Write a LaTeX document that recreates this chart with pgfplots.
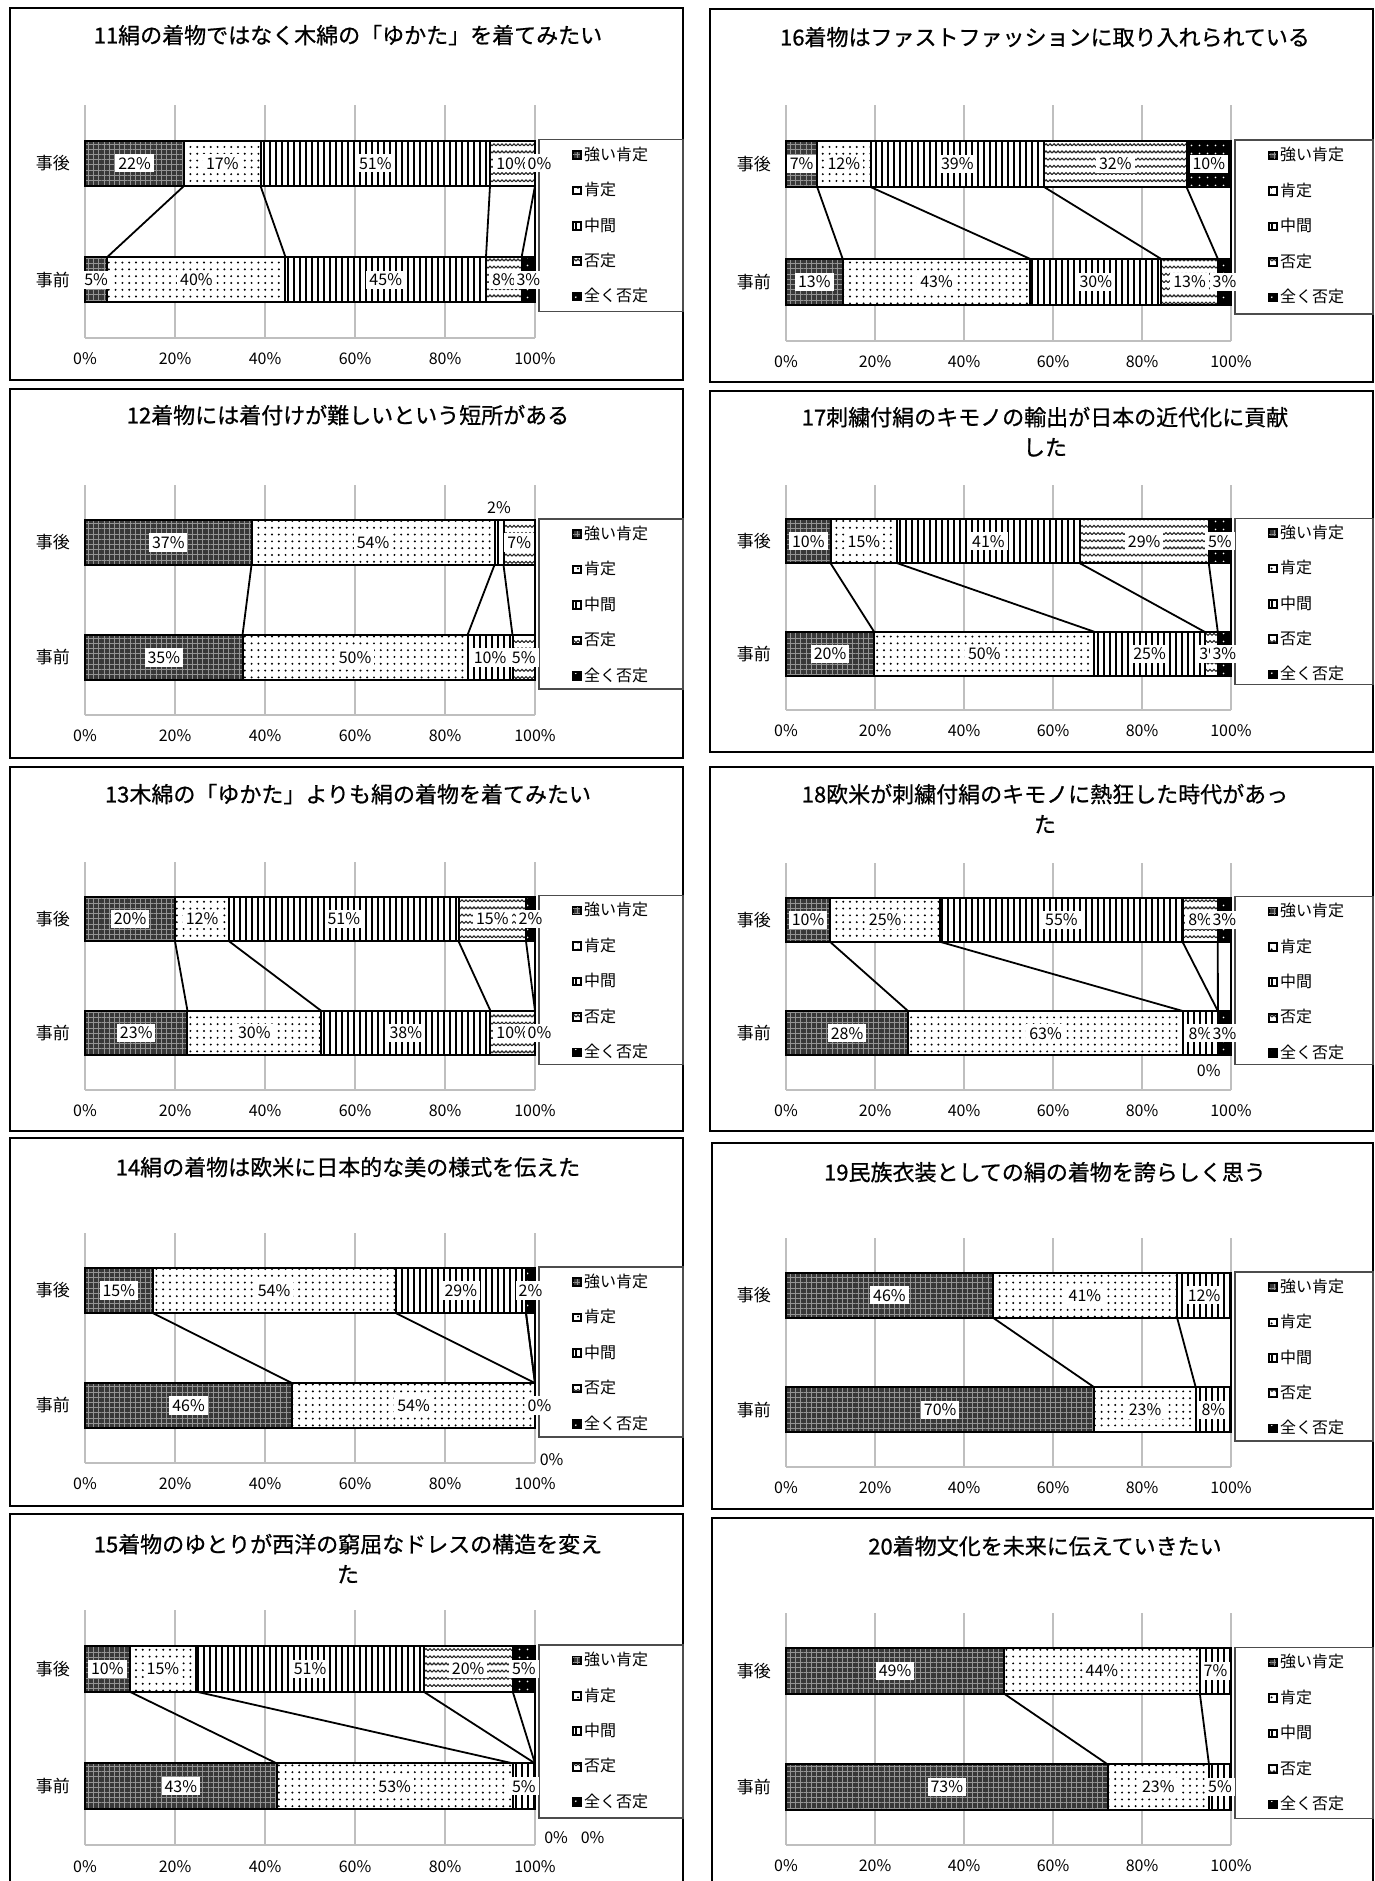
\documentclass[border=0pt]{standalone}
\usepackage{fontspec}
\setmainfont{Noto Sans CJK JP}
\newfontfamily\ttlfont{Noto Sans CJK JP}[BoldFont={Noto Sans CJK JP}, BoldFeatures={FakeBold=0.8}]
\usepackage{pgfplots}
\pgfplotsset{compat=1.18}
\usepackage{pgfplotstable}
\usetikzlibrary{patterns,patterns.meta}

\tikzdeclarepattern{
  name=wavy,
  type=uncolored,
  bounding box={(-0.3pt,-0.6pt) and (2.3pt,1.6pt)},
  tile size={(2pt,3.6pt)},
  code={\draw[line width=0.55pt] (0pt,0pt) -- (1pt,1pt) -- (2pt,0pt);}
}

% y=0: 事前, y=1: 事後 ; a..e = 強い肯定..全く否定 ; k = series whose label is moved
\pgfplotstableread{
y a  b  c  d  e k
0 5  40 45 8  3 0
1 22 17 51 10 0 0
}\tA
\pgfplotstableread{
y a  b  c  d e k
0 35 50 10 5 0 0
1 37 54 2  7 0 3
}\tB
\pgfplotstableread{
y a  b  c  d  e k
0 23 30 38 10 0 0
1 20 12 51 15 2 0
}\tC
\pgfplotstableread{
y a  b  c  d e k
0 46 54 0  0 0 0
1 15 54 29 0 2 0
}\tD
\pgfplotstableread{
y a  b  c  d  e k
0 43 53 5  0  0 0
1 10 15 51 20 5 0
}\tE
\pgfplotstableread{
y a  b  c  d  e  k
0 13 43 30 13 3  0
1 7  12 39 32 10 0
}\tF
\pgfplotstableread{
y a  b  c  d  e k
0 20 50 25 3  3 0
1 10 15 41 29 5 0
}\tG
\pgfplotstableread{
y a  b  c  d e k
0 28 63 8  0 3 0
1 10 25 55 8 3 0
}\tH
\pgfplotstableread{
y a  b  c  d e k
0 70 23 8  0 0 0
1 46 41 12 0 0 0
}\tI
\pgfplotstableread{
y a  b  c d e k
0 73 23 5 0 0 0
1 49 44 7 0 0 0
}\tJ

% labels that were moved by hand
\pgfplotstableread{
x   y  t
101 1  {0\%}
}\xA
\pgfplotstableread{
x  y    t
92 1.30 {2\%}
}\xB
\pgfplotstableread{
x   y t
101 0 {0\%}
}\xC
\pgfplotstableread{
x     y     t
101   0     {0\%}
103.7 -0.47 {0\%}
}\xD
\pgfplotstableread{
x     y     t
104.7 -0.44 {0\%}
112.8 -0.44 {0\%}
}\xE
\pgfplotstableread{
x  y     t
95 -0.33 {0\%}
}\xH

\newcommand\T{(\thisrow{a}+\thisrow{b}+\thisrow{c}+\thisrow{d}+\thisrow{e})}

\pgfplotsset{
  kp/.style={
    anchor=north west, scale only axis,
    xmin=0, xmax=100, ymin=-0.5, ymax=1.5, clip=false,
    axis line style={draw=none}, tick style={draw=none},
    xtick={0,20,...,100}, xticklabel={\pgfmathprintnumber{\tick}\%},
    ytick={0,1}, yticklabels={事前,事後},
    xmajorgrids, grid style={draw=black!25, line width=0.6pt},
    /pgf/number format/assume math mode=true,
    xticklabel style={font=\fontsize{8}{9}\selectfont, yshift=-4pt},
    yticklabel style={font=\fontsize{8.5}{10}\selectfont, xshift=-4pt},
    reverse legend, legend cell align=left,
    legend style={draw=none, fill=none, at={(axis description cs:1,0.75)},
      anchor=north west, xshift=18.5pt, yshift=9pt, inner sep=0pt,
      row sep=8.5pt, column sep=1pt,
      font=\fontsize{8}{9}\selectfont, nodes={inner sep=0.5pt}},
  },
  bb/.style={xbar, bar shift=0pt, bar width=0.39, draw=black, line width=1pt,
    legend image code/.code={\draw[##1, line width=0.5pt] (0pt,-1.9pt) rectangle (3.8pt,1.9pt);}},
  sA/.style={bb, preaction={fill=black!78}, pattern={Hatch[angle=0,distance=2.6pt,line width=0.5pt]}, pattern color=black!42},
  sB/.style={bb, preaction={fill=white}, pattern={Dots[distance=3.4pt,radius=0.55pt]}, pattern color=black},
  sC/.style={bb, preaction={fill=white}, pattern={Lines[angle=90,distance=3pt,line width=0.9pt]}, pattern color=black},
  sD/.style={bb, preaction={fill=white}, pattern=wavy, pattern color=black!85},
  sE/.style={bb, preaction={fill=black}, pattern={Dots[distance=4pt,radius=0.5pt]}, pattern color=white},
  sline/.style={forget plot, black, line width=0.9pt, mark=none},
  lab/.style={forget plot, draw=none, mark=none,
    nodes near coords={\pgfmathprintnumber{\pgfplotspointmeta}\%},
    every node near coord/.append style={anchor=center, fill=white, inner sep=1.5pt,
      text=black, font=\fontsize{8}{9}\selectfont}},
  labx/.style={lab, point meta=explicit symbolic, nodes near coords={\pgfplotspointmeta}},
}

\newcommand\lbl[4]{\addplot[lab, point meta=\thisrow{#2},
  restrict expr to domain={\thisrow{#2}*(\thisrow{k}!=#3)}{0.5:1000}]
  table[x expr={#4}, y=y]{#1};}

\newcommand\panelplots[2]{%
  \addplot[sE] table[x expr=100, y=y]{#1}; \addlegendentry{全く否定}
  \addplot[sD] table[x expr={100*(\thisrow{a}+\thisrow{b}+\thisrow{c}+\thisrow{d})/\T}, y=y]{#1}; \addlegendentry{否定}
  \addplot[sC] table[x expr={100*(\thisrow{a}+\thisrow{b}+\thisrow{c})/\T}, y=y]{#1}; \addlegendentry{中間}
  \addplot[sB] table[x expr={100*(\thisrow{a}+\thisrow{b})/\T}, y=y]{#1}; \addlegendentry{肯定}
  \addplot[sA] table[x expr={100*\thisrow{a}/\T}, y=y]{#1}; \addlegendentry{強い肯定}
  \addplot[sline] table[x expr={100*\thisrow{a}/\T}, y expr={0.195+0.61*\thisrow{y}}]{#1};
  \addplot[sline] table[x expr={100*(\thisrow{a}+\thisrow{b})/\T}, y expr={0.195+0.61*\thisrow{y}}]{#1};
  \addplot[sline] table[x expr={100*(\thisrow{a}+\thisrow{b}+\thisrow{c})/\T}, y expr={0.195+0.61*\thisrow{y}}]{#1};
  \addplot[sline] table[x expr={100*(\thisrow{a}+\thisrow{b}+\thisrow{c}+\thisrow{d})/\T}, y expr={0.195+0.61*\thisrow{y}}]{#1};
  \addplot[sline] table[x expr=100, y expr={0.195+0.61*\thisrow{y}}]{#1};
  \lbl{#1}{a}{1}{50*\thisrow{a}/\T}
  \lbl{#1}{b}{2}{100*(\thisrow{a}+0.5*\thisrow{b})/\T}
  \lbl{#1}{c}{3}{100*(\thisrow{a}+\thisrow{b}+0.5*\thisrow{c})/\T}
  \lbl{#1}{d}{4}{100*(\thisrow{a}+\thisrow{b}+\thisrow{c}+0.5*\thisrow{d})/\T}
  \lbl{#1}{e}{5}{100*(\thisrow{a}+\thisrow{b}+\thisrow{c}+\thisrow{d}+0.5*\thisrow{e})/\T}
  \draw[black!25, line width=0.6pt] (axis cs:0,-0.5) -- (axis cs:100,-0.5);
  \draw[black!70, line width=0.7pt] ([xshift=2pt,yshift=0.5pt]axis cs:100,1.195)
    rectangle ([xshift=#2,yshift=-4.5pt]axis cs:100,-0.195);
}

\begin{document}
\begin{tikzpicture}[x=0.5pt, y=0.5pt,
  frm/.style={draw=black, line width=1pt},
  ttl/.style={anchor=base, font=\ttlfont\bfseries\fontsize{11}{14}\selectfont, inner sep=0pt}]
\useasboundingbox (0,0) rectangle (1375,1881);

% ---- left column
\draw[frm] (10,1881-8) rectangle (683,1881-380);
\node[ttl] at (348,1881-43.5) {11絹の着物ではなく木綿の「ゆかた」を着てみたい};
\begin{axis}[kp, width=225pt, height=116.5pt, at={(42.5pt,888pt)}]
\panelplots{\tA}{74pt}
\addplot[labx] table[x=x, y=y, meta=t]{\xA};
\end{axis}

\draw[frm] (10,1881-389) rectangle (683,1881-758);
\node[ttl] at (348,1881-423.5) {12着物には着付けが難しいという短所がある};
\begin{axis}[kp, width=225pt, height=115pt, at={(42.5pt,698pt)}]
\panelplots{\tB}{74pt}
\addplot[labx] table[x=x, y=y, meta=t]{\xB};
\end{axis}

\draw[frm] (10,1881-767) rectangle (683,1881-1131);
\node[ttl] at (348,1881-802.5) {13木綿の「ゆかた」よりも絹の着物を着てみたい};
\begin{axis}[kp, width=225pt, height=114pt, at={(42.5pt,509.5pt)}]
\panelplots{\tC}{74pt}
\addplot[labx] table[x=x, y=y, meta=t]{\xC};
\end{axis}

\draw[frm] (10,1881-1138) rectangle (683,1881-1506);
\node[ttl] at (348,1881-1175.5) {14絹の着物は欧米に日本的な美の様式を伝えた};
\begin{axis}[kp, width=225pt, height=115pt, at={(42.5pt,324pt)}]
\panelplots{\tD}{74pt}
\addplot[labx] table[x=x, y=y, meta=t]{\xD};
\end{axis}

\draw[frm] (10,1881-1514) rectangle (683,1881-1895);
\node[ttl] at (348,1881-1552.5) {15着物のゆとりが西洋の窮屈なドレスの構造を変え};
\node[ttl] at (348,1881-1582.5) {た};
\begin{axis}[kp, width=225pt, height=117.5pt, at={(42.5pt,135.5pt)}]
\panelplots{\tE}{74pt}
\addplot[labx] table[x=x, y=y, meta=t]{\xE};
\end{axis}

% ---- right column
\draw[frm] (710,1881-9) rectangle (1373,1881-382);
\node[ttl] at (1045,1881-45.5) {16着物はファストファッションに取り入れられている};
\begin{axis}[kp, width=222.5pt, height=118pt, at={(393pt,888pt)}]
\panelplots{\tF}{71pt}
\end{axis}

\draw[frm] (710,1881-391) rectangle (1373,1881-752);
\node[ttl] at (1045,1881-425.5) {17刺繍付絹のキモノの輸出が日本の近代化に貢献};
\node[ttl] at (1045,1881-455.5) {した};
\begin{axis}[kp, width=222.5pt, height=112.5pt, at={(393pt,698pt)}]
\panelplots{\tG}{71pt}
\end{axis}

\draw[frm] (710,1881-767) rectangle (1373,1881-1131);
\node[ttl] at (1045,1881-802.5) {18欧米が刺繍付絹のキモノに熱狂した時代があっ};
\node[ttl] at (1045,1881-832.5) {た};
\begin{axis}[kp, width=222.5pt, height=113.5pt, at={(393pt,509pt)}]
\panelplots{\tH}{71pt}
\addplot[labx] table[x=x, y=y, meta=t]{\xH};
\end{axis}

\draw[frm] (712,1881-1143) rectangle (1373,1881-1509);
\node[ttl] at (1045,1881-1180.5) {19民族衣装としての絹の着物を誇らしく思う};
\begin{axis}[kp, width=222.5pt, height=114.5pt, at={(393pt,321.5pt)}]
\panelplots{\tI}{71pt}
\end{axis}

\draw[frm] (712,1881-1518) rectangle (1373,1881-1895);
\node[ttl] at (1045,1881-1554.5) {20着物文化を未来に伝えていきたい};
\begin{axis}[kp, width=222.5pt, height=116pt, at={(393pt,134pt)}]
\panelplots{\tJ}{71pt}
\end{axis}

\end{tikzpicture}
\end{document}
